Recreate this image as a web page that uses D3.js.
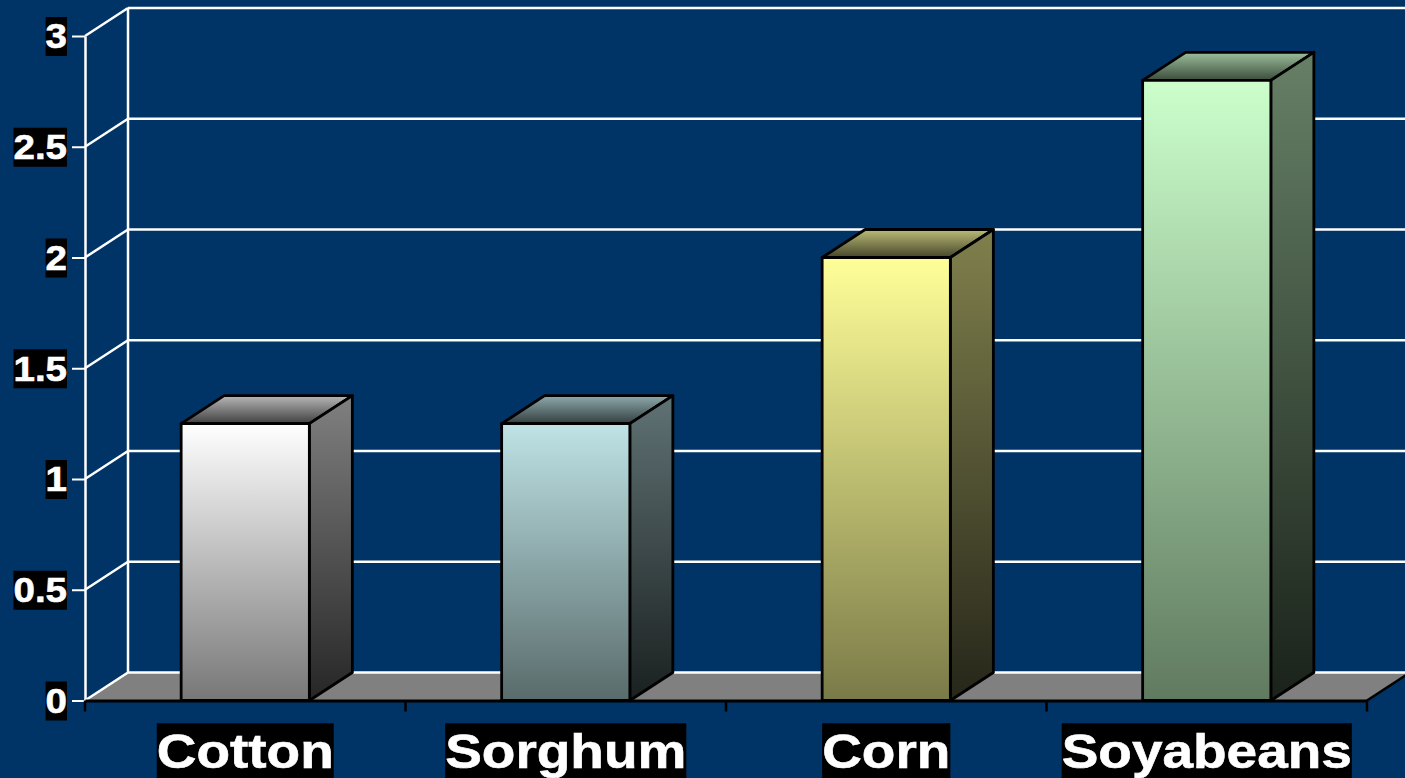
<!DOCTYPE html>
<html>
<head>
<meta charset="utf-8">
<script src="https://cdn.jsdelivr.net/npm/d3@7"></script>
<style>
html,body{margin:0;padding:0;background:#003366;overflow:hidden}
text{font-family:"Liberation Sans",Arial,sans-serif;font-weight:bold;fill:white;stroke:white;stroke-width:0.6px}
</style>
</head>
<body>
<div id="Canvas"></div>
<script>
let crops = ["Cotton","Sorghum","Corn","Soyabeans"]
let yields = [1.25,1.25,2,2.8]
let y_ticks = [0,0.5,1,1.5,2,2.5,3]
let front_top = ["#ffffff","#bfe3e6","#ffff99","#ccffcc"]
let front_bot = ["#777777","#596b6b","#7a7a48","#607a60"]
let side_top = ["#808080","#607274","#80804d","#668066"]
let side_bot = ["#262626","#1a2020","#26261a","#1a221a"]
let top_back = ["#b8b8b8","#8eaaac","#bcbc78","#9cc09c"]
let top_front = ["#404040","#343f40","#46462a","#3c4c3c"]

const Depth_X = 43, Depth_Y = 28

let svg = d3.select("#Canvas").append("svg")
    .attr("width",1405).attr("height",778)
    .style("display","block")

let Band_Scale = d3.scaleBand().domain(crops).range([85,1367])
let Y_Scale = d3.scaleLinear().domain([0,3]).range([700.5,36])

//gradients
let defs = svg.append("defs")
function make_grad(id,c1,c2){
    let g = defs.append("linearGradient").attr("id",id)
        .attr("x1",0).attr("y1",0).attr("x2",0).attr("y2",1)
    g.append("stop").attr("offset",0).attr("stop-color",c1)
    g.append("stop").attr("offset",1).attr("stop-color",c2)
}
crops.forEach((c,i)=>{
    make_grad("front"+i,front_top[i],front_bot[i])
    make_grad("side"+i,side_top[i],side_bot[i])
    make_grad("top"+i,top_back[i],top_front[i])
})

//floor
svg.append("polygon")
    .attr("points",[[85,Y_Scale(0)],[85+Depth_X,Y_Scale(0)-Depth_Y],[1367+Depth_X,Y_Scale(0)-Depth_Y],[1367,Y_Scale(0)]].join(" "))
    .attr("fill","#808080")

//wall grid
let grid = svg.append("g").attr("stroke","white").attr("stroke-width",2.5).attr("fill","none")
grid.selectAll(".back").data(y_ticks).enter().append("line")
    .attr("x1",85+Depth_X).attr("x2",1367+Depth_X)
    .attr("y1",d=>Y_Scale(d)-Depth_Y).attr("y2",d=>Y_Scale(d)-Depth_Y)
grid.selectAll(".diag").data(y_ticks).enter().append("line")
    .attr("x1",85).attr("x2",85+Depth_X)
    .attr("y1",d=>Y_Scale(d)).attr("y2",d=>Y_Scale(d)-Depth_Y)
grid.append("line").attr("x1",85+Depth_X).attr("x2",85+Depth_X).attr("y1",Y_Scale(3)-Depth_Y).attr("y2",Y_Scale(0)-Depth_Y)

//y axis
let Y_axis = d3.axisLeft(Y_Scale).tickValues(y_ticks).tickSize(13).tickSizeOuter(0).tickFormat(d=>d)
let y_g = svg.append("g").attr("transform","translate(85,0)").call(Y_axis)
y_g.select(".domain").attr("stroke","white").attr("stroke-width",2.5)
y_g.selectAll("line").attr("stroke","white").attr("stroke-width",2)
y_g.selectAll("text").attr("x",-18/1.1).attr("dy",0)
    .attr("dominant-baseline","central")
    .attr("transform","scale(1.1,1)")
    .style("font-size","35px").attr("fill","white")

//x axis
let X_axis = d3.axisBottom(Band_Scale).tickValues([]).tickSizeOuter(0)
let x_g = svg.append("g").attr("transform","translate(0,700.5)").call(X_axis)
x_g.select(".domain").attr("stroke","black").attr("stroke-width",3)
x_g.selectAll(".sep").data([85,405.5,726,1046.5,1367]).enter().append("line")
    .attr("x1",d=>d).attr("x2",d=>d).attr("y1",0).attr("y2",11)
    .attr("stroke","black").attr("stroke-width",2.5)
svg.append("line").attr("x1",1367).attr("y1",Y_Scale(0)).attr("x2",1367+Depth_X).attr("y2",Y_Scale(0)-Depth_Y)
    .attr("stroke","black").attr("stroke-width",2.5)

//bars
let bars = svg.append("g").selectAll("g").data(crops).enter().append("g")
    .attr("stroke","black").attr("stroke-width",2.8).attr("stroke-linejoin","round")
function bar_x(d){ return Band_Scale(d)+Band_Scale.bandwidth()*0.3 }
let bar_w = Band_Scale.bandwidth()*0.4
bars.append("polygon")
    .attr("points",(d,i)=>{
        let x = bar_x(d), y = Y_Scale(yields[i])
        return [[x,y],[x+Depth_X,y-Depth_Y],[x+bar_w+Depth_X,y-Depth_Y],[x+bar_w,y]].join(" ")
    })
    .attr("fill",(d,i)=>"url(#top"+i+")")
bars.append("polygon")
    .attr("points",(d,i)=>{
        let x = bar_x(d)+bar_w, y = Y_Scale(yields[i]), y0 = Y_Scale(0)
        return [[x,y],[x+Depth_X,y-Depth_Y],[x+Depth_X,y0-Depth_Y],[x,y0]].join(" ")
    })
    .attr("fill",(d,i)=>"url(#side"+i+")")
bars.append("rect")
    .attr("x",d=>bar_x(d)).attr("width",bar_w)
    .attr("y",(d,i)=>Y_Scale(yields[i])).attr("height",(d,i)=>Y_Scale(0)-Y_Scale(yields[i]))
    .attr("fill",(d,i)=>"url(#front"+i+")")

//x labels
let x_labels = svg.append("g").selectAll("text").data(crops).enter().append("text")
    .attr("text-anchor","middle")
    .style("font-size","48px")
    .attr("transform",d=>"translate("+(Band_Scale(d)+Band_Scale.bandwidth()/2)+",768) scale(1.145,1)")
    .text(d=>d)

//black boxes behind labels
function add_box(sel,pad_x,pad_y){
    sel.each(function(){
        let b = this.getBBox()
        d3.select(this.parentNode).insert("rect",()=>this)
            .attr("transform",this.getAttribute("transform"))
            .attr("x",b.x-pad_x).attr("y",b.y-pad_y)
            .attr("width",b.width+pad_x*2).attr("height",b.height+pad_y*2)
            .attr("fill","black")
    })
}
add_box(x_labels,0,1)
add_box(y_g.selectAll("text"),0,0)
</script>
</body>
</html>
